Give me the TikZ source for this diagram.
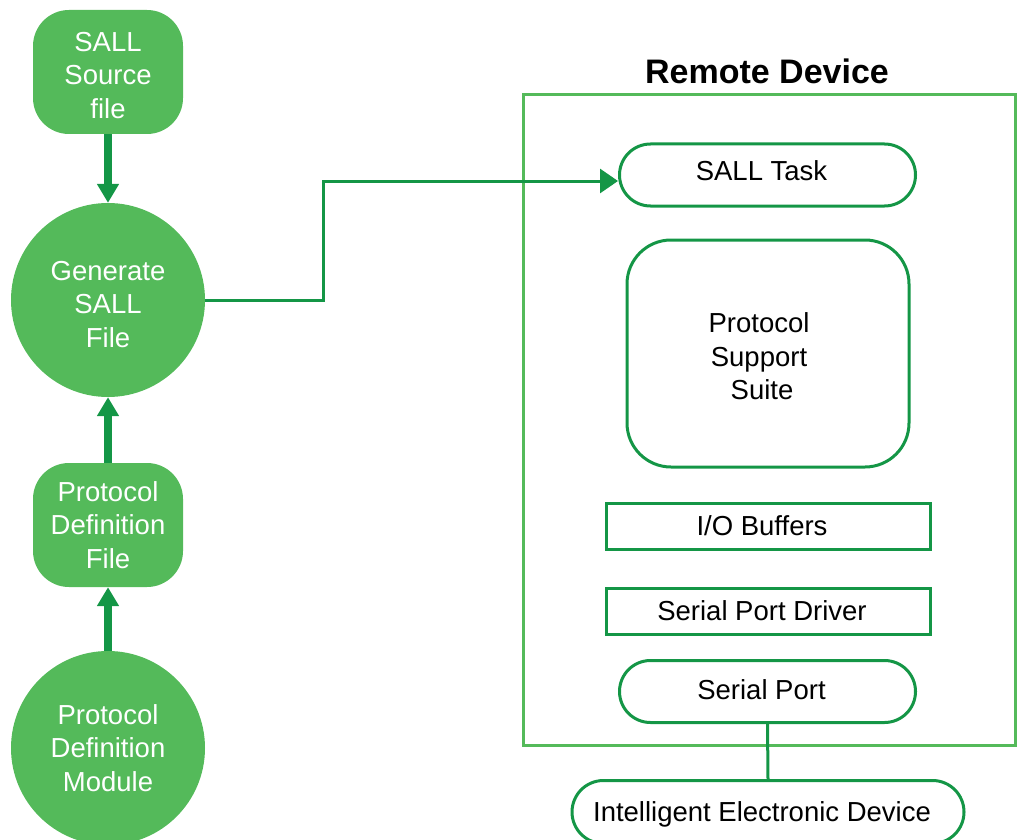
\documentclass[tikz,border=0pt]{standalone}
\usepackage{fontspec}
\setmainfont{Liberation Sans}
\usetikzlibrary{arrows.meta,shapes.misc}
\definecolor{lightg}{RGB}{84,186,90}
\definecolor{darkg}{RGB}{20,150,70}
\newcommand{\lft}[1]{#1\hspace*{12pt}}
\newcommand{\mv}[2]{\raisebox{#1}[\height][\depth]{#2}}
\newcommand{\stk}[1]{\begin{tabular}{@{}c@{}}#1\end{tabular}}
\tikzset{
  txt/.style={font=\fontsize{27.5}{33.5}\selectfont, align=center},
  greenbox/.style={txt, fill=lightg, text=white, rounded corners=36pt, minimum width=150pt, minimum height=124pt, inner sep=0pt},
  greencirc/.style={txt, circle, fill=lightg, text=white, minimum size=194pt, inner sep=0pt},
  pill/.style={txt, rounded rectangle, draw=darkg, line width=3pt, minimum width=296pt, minimum height=62pt, inner sep=0pt},
  plainbox/.style={txt, rectangle, draw=darkg, line width=3pt, minimum width=324pt, minimum height=46pt, inner sep=0pt},
  fatarrow/.style={darkg, line width=8pt, -{Triangle[length=19pt,width=21pt]}},
  thinarrow/.style={darkg, line width=3pt, -{Triangle[length=18pt,width=24pt]}},
}
\begin{document}
\begin{tikzpicture}[x=1pt,y=-1pt]
\useasboundingbox (0,0) rectangle (1020,840);
% left column
\node[greenbox] (src) at (108,72) {\mv{-6pt}{\stk{SALL\\Source\\file}}};
\node[greencirc] (gen) at (108,300) {\mv{-7pt}{\stk{Generate\\SALL\\File}}};
\node[greenbox] (pdf) at (108,525) {Protocol\\Definition\\File};
\node[greencirc] (pdm) at (108,748) {Protocol\\Definition\\Module};
\draw[fatarrow] (src.south) -- (gen.north);
\draw[fatarrow] (pdf.north) -- (gen.south);
\draw[fatarrow] (pdm.north) -- (pdf.south);
% remote device
\node[draw=lightg, line width=3pt, minimum width=492pt, minimum height=650pt, inner sep=0pt] (rd) at (769,420) {};
\node[font=\fontsize{34}{40}\selectfont\bfseries, anchor=base] (rdt) at (767,84) {Remote Device};
\node[pill] (task) at (767.5,175) {\mv{4pt}{\lft{SALL Task}}};
\node[txt, draw=darkg, line width=3pt, rounded corners=44pt, minimum width=282pt, minimum height=227pt, inner sep=0pt] (pss) at (768,353.5) {\mv{-6pt}{\stk{\hspace*{-18pt}Protocol\\\hspace*{-18pt}Support\\\hspace*{-12pt}Suite}}};
\node[plainbox] (io) at (768,526) {\lft{I/O Buffers}};
\node[plainbox] (spd) at (768,611) {\lft{Serial Port Driver}};
\node[pill] (sp) at (767.5,691.5) {\mv{2pt}{\lft{Serial Port}}};
\node[pill, minimum width=392pt, minimum height=63pt] (ied) at (768,812) {\mv{-2pt}{\lft{Intelligent Electronic Device}}};
\draw[darkg, line width=3pt] (sp.south) -- (ied.north);
% connector
\draw[thinarrow] (gen.east) -| (323,181) -- (task.west |- 0,181);
\end{tikzpicture}
\end{document}
